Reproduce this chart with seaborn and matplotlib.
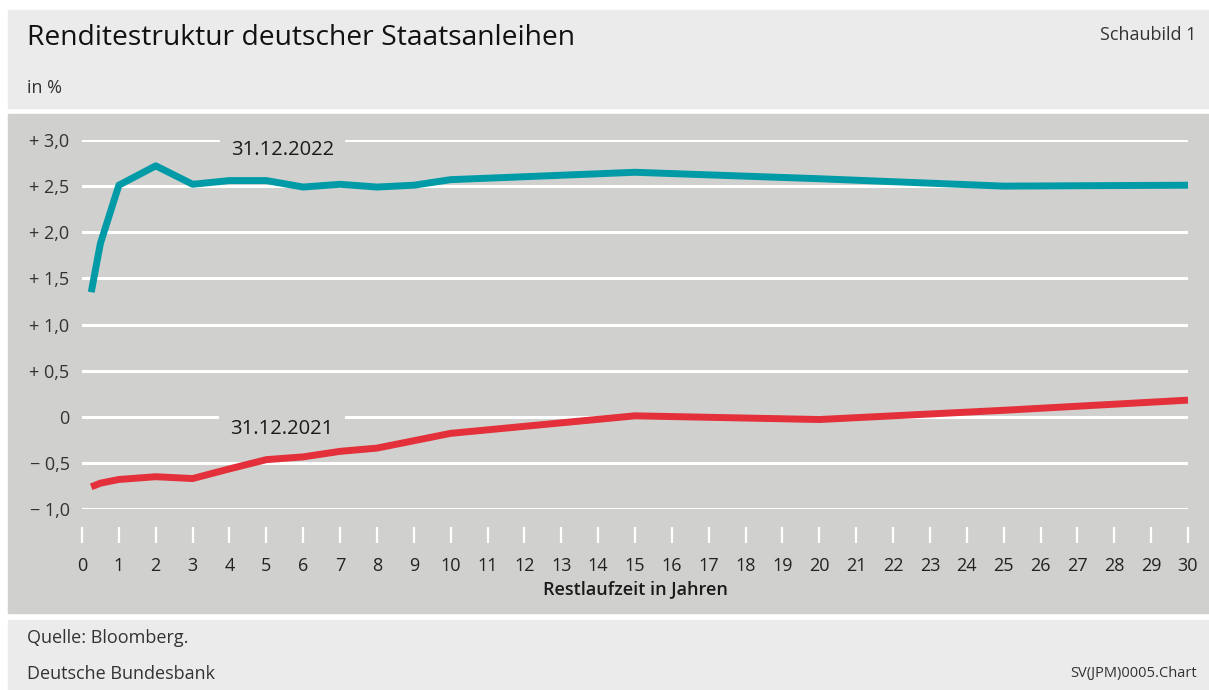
import pandas as pd
import matplotlib
matplotlib.use("Agg")
import matplotlib.pyplot as plt
import seaborn as sns
from matplotlib.patches import Rectangle

# Restlaufzeit in Jahren und Renditen in %
laufzeit = [0.25, 0.5, 1, 2, 3, 4, 5, 6, 7, 8, 9, 10, 15, 20, 25, 30]
rendite_2022 = [1.35, 1.88, 2.51, 2.72, 2.52, 2.56, 2.56, 2.49, 2.52, 2.49, 2.51, 2.57, 2.65, 2.58, 2.50, 2.51]
rendite_2021 = [-0.76, -0.72, -0.68, -0.65, -0.67, -0.565, -0.465, -0.435, -0.375, -0.34, -0.26, -0.18, 0.01, -0.03, 0.07, 0.18]

y_ticks = [-1.0, -0.5, 0, 0.5, 1.0, 1.5, 2.0, 2.5, 3.0]
y_labels = ["\u2212 1,0", "\u2212 0,5", "0", "+ 0,5", "+ 1,0", "+ 1,5", "+ 2,0", "+ 2,5", "+ 3,0"]
x_ticks = list(range(0, 31))

df = pd.DataFrame({"laufzeit": laufzeit, "r2022": rendite_2022, "r2021": rendite_2021})

plt.rcParams['font.family'] = ['Open Sans', 'DejaVu Sans']

W, H = 1209, 690
fig = plt.figure(figsize=(W / 100, H / 100), dpi=100)
fig.patch.set_facecolor('white')

# Hintergrundflaechen (Kopf, Grafik, Fuss)
def box(x0, y0, x1, y1, color):
    fig.patches.append(Rectangle((x0 / W, 1 - y1 / H), (x1 - x0) / W, (y1 - y0) / H,
                                 transform=fig.transFigure, color=color, zorder=-5))

box(8, 10, W, 108, '#ebebeb')
box(8, 114, W, 613, '#d0d0ce')
box(8, 620, W, H, '#ebebeb')

ax = fig.add_axes([82 / W, 1 - 509 / H, (1188 - 82) / W, (509 - 140) / H])
ax.set_facecolor('none')

sns.lineplot(data=df, x="laufzeit", y="r2022", ax=ax, color='#009ba6', linewidth=5,
             solid_capstyle='butt', zorder=4, clip_on=False)
sns.lineplot(data=df, x="laufzeit", y="r2021", ax=ax, color='#e3303a', linewidth=5,
             solid_capstyle='butt', zorder=4, clip_on=False)

ax.set_xlim(0, 30)
ax.set_ylim(-1.0, 3.0)
ax.set_yticks(y_ticks)
ax.set_yticklabels(y_labels)
ax.set_xticks(x_ticks)
ax.set_xticklabels([str(t) for t in x_ticks])

for s in ax.spines.values():
    s.set_visible(False)
ax.spines['bottom'].set_position(('outward', 13))

ax.grid(axis='y', color='white', linewidth=2.2, zorder=1)
ax.grid(axis='x', visible=False)
ax.set_axisbelow(True)
ax.tick_params(axis='y', length=0, pad=9, labelsize=13, labelcolor='#333333')
ax.tick_params(axis='x', direction='out', length=11.5, width=1.6, color='white',
               pad=10, labelsize=13, labelcolor='#222222')

ax.set_xlabel("Restlaufzeit in Jahren", fontsize=13, fontweight='semibold', color='#1a1a1a', labelpad=4)
ax.set_ylabel("")

# Beschriftungen der Kurven, Hintergrund unterbricht die Gitterlinie
label_box = dict(facecolor='#d0d0ce', edgecolor='none', pad=8)
ax.text(5.43, 2.895, "31.12.2022", ha='center', va='center', fontsize=14.5, color='#1a1a1a',
        bbox=label_box, zorder=2)
ax.text(5.43, -0.13, "31.12.2021", ha='center', va='center', fontsize=14.5, color='#1a1a1a',
        bbox=label_box, zorder=2)

fig.text(27 / W, 1 - 38 / H, "Renditestruktur deutscher Staatsanleihen", ha='left', va='center',
         fontsize=20.3, color='#111111')
fig.text(1196 / W, 1 - 35 / H, "Schaubild 1", ha='right', va='center', fontsize=13, color='#333333')
fig.text(27 / W, 1 - 88 / H, "in %", ha='left', va='center', fontsize=13, color='#333333')
fig.text(27 / W, 1 - 638 / H, "Quelle: Bloomberg.", ha='left', va='center', fontsize=13, color='#333333')
fig.text(27 / W, 1 - 674 / H, "Deutsche Bundesbank", ha='left', va='center', fontsize=13, color='#333333')
fig.text(1197 / W, 1 - 674 / H, "SV(JPM)0005.Chart", ha='right', va='center', fontsize=10.5, color='#333333')

fig.savefig("out.png", dpi=100)
